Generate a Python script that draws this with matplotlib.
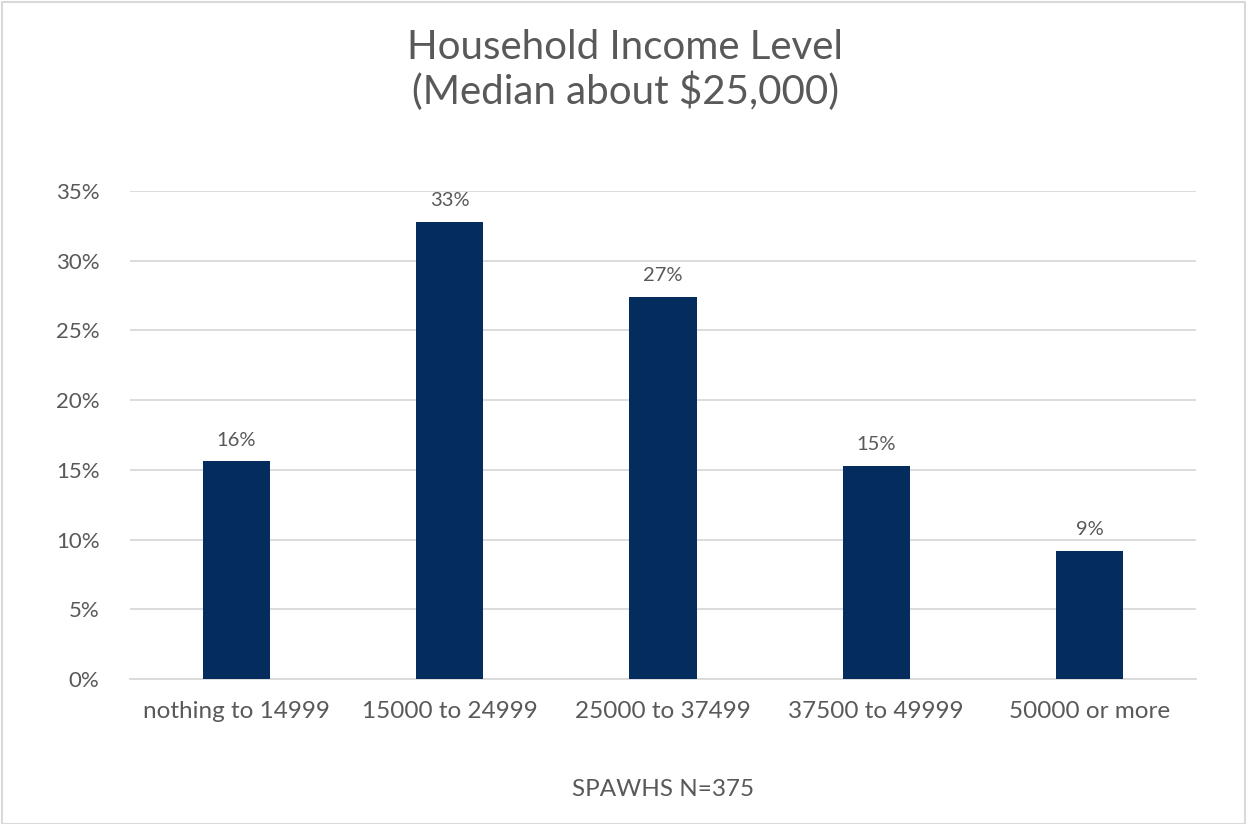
import matplotlib
matplotlib.use("Agg")
import matplotlib.pyplot as plt
from matplotlib.ticker import PercentFormatter, MultipleLocator
from matplotlib.patches import Rectangle

categories = ["nothing to 14999", "15000 to 24999", "25000 to 37499", "37500 to 49999", "50000 or more"]
values = [15.6, 32.8, 27.4, 15.3, 9.2]
labels = ["16%", "33%", "27%", "15%", "9%"]

plt.rcParams['font.family'] = ['Lato', 'DejaVu Sans']
gray = '#595959'

fig = plt.figure(figsize=(12.47, 8.24), dpi=100)
ax = fig.add_axes([130/1247, 145/824, (1196-130)/1247, (679-191)/824])

x = range(len(categories))
bars = ax.bar(x, values, width=0.315, color='#042D5E', zorder=3)
for xi, v, lab in zip(x, values, labels):
    ax.annotate(lab, (xi, v), xytext=(0, 9), textcoords='offset points',
                ha='center', va='bottom', fontsize=14.5, color=gray)

ax.set_ylim(0, 35)
ax.set_xlim(-0.5, len(categories) - 0.5)
ax.yaxis.set_major_locator(MultipleLocator(5))
ax.yaxis.set_major_formatter(PercentFormatter(decimals=0))
ax.grid(axis='y', color='#D9D9D9', linewidth=1.3, zorder=0)
for s in ['top', 'right', 'left']:
    ax.spines[s].set_visible(False)
ax.spines['bottom'].set_color('#D9D9D9')
ax.spines['bottom'].set_linewidth(1.3)
ax.set_xticks(list(x))
ax.set_xticklabels(categories)
ax.tick_params(axis='both', length=0, colors=gray)
ax.tick_params(axis='x', pad=16, labelsize=17.5)
ax.tick_params(axis='y', pad=22, labelsize=16)

fig.text(0.5016, 1 - 70/824, "Household Income Level\n(Median about $25,000)", ha='center', va='center',
         fontsize=29, color=gray, linespacing=1.2)
fig.text(663/1247, 1 - 790/824, "SPAWHS N=375", ha='center', va='center', fontsize=17.5, color=gray)

fig.patches.append(Rectangle((2/1247, 0), 1243/1247, 1 - 2/824, transform=fig.transFigure,
                             fill=False, edgecolor='#D9D9D9', linewidth=1.5))

fig.savefig("out.png", dpi=100)
